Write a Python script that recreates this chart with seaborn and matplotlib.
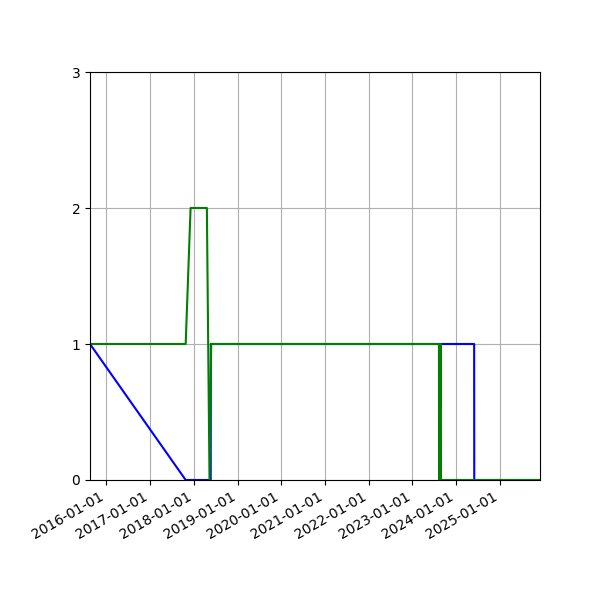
import matplotlib
matplotlib.use("Agg")
import matplotlib.pyplot as plt
import matplotlib.dates as mdates
import pandas as pd
import seaborn as sns

# blue series
blue_dates = ["2015-08-18", "2017-10-25", "2018-05-22", "2018-05-23",
              "2024-05-30", "2024-05-31", "2025-12-01"]
blue_values = [1, 0, 0, 1, 1, 0, 0]

# green series
green_dates = ["2015-08-18", "2017-10-25", "2017-12-05", "2018-04-20",
               "2018-05-12", "2018-05-26", "2023-08-10", "2023-08-11",
               "2023-08-26", "2023-08-27", "2025-12-01"]
green_values = [1, 1, 2, 2, 0, 1, 1, 0, 1, 0, 0]

blue = pd.DataFrame({"date": pd.to_datetime(blue_dates), "value": blue_values})
green = pd.DataFrame({"date": pd.to_datetime(green_dates), "value": green_values})

fig, ax = plt.subplots(figsize=(6, 6), dpi=100)
sns.lineplot(data=blue, x="date", y="value", color="blue", ax=ax)
sns.lineplot(data=green, x="date", y="value", color="green", ax=ax)

ax.set_xlim(pd.Timestamp("2015-08-18"), pd.Timestamp("2025-12-01"))
ax.set_ylim(0, 3)
ax.set_yticks([0, 1, 2, 3])
ax.xaxis.set_major_locator(mdates.YearLocator())
ax.xaxis.set_major_formatter(mdates.DateFormatter("%Y-%m-%d"))
ax.set_xlabel("")
ax.set_ylabel("")
ax.grid(True)
fig.autofmt_xdate()
fig.subplots_adjust(left=0.15, right=0.9, top=0.88, bottom=0.2)

plt.savefig("out.png")
